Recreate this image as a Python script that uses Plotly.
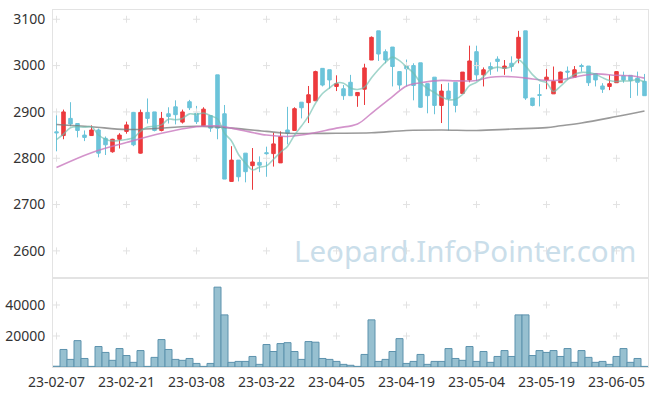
import plotly.graph_objects as go
import pandas as pd

dates = [
    "23-02-07", "23-02-08", "23-02-09", "23-02-10", "23-02-13", "23-02-14", "23-02-15", "23-02-16",
    "23-02-17", "23-02-20", "23-02-21", "23-02-22", "23-02-23", "23-02-24", "23-02-27", "23-02-28",
    "23-03-02", "23-03-03", "23-03-06", "23-03-07", "23-03-08", "23-03-09", "23-03-10", "23-03-13",
    "23-03-14", "23-03-15", "23-03-16", "23-03-17", "23-03-20", "23-03-21", "23-03-22", "23-03-23",
    "23-03-24", "23-03-27", "23-03-28", "23-03-29", "23-03-30", "23-03-31", "23-04-03", "23-04-04",
    "23-04-05", "23-04-06", "23-04-07", "23-04-10", "23-04-11", "23-04-12", "23-04-13", "23-04-14",
    "23-04-17", "23-04-18", "23-04-19", "23-04-20", "23-04-21", "23-04-24", "23-04-25", "23-04-26",
    "23-04-27", "23-04-28", "23-05-02", "23-05-03", "23-05-04", "23-05-08", "23-05-09", "23-05-10",
    "23-05-11", "23-05-12", "23-05-15", "23-05-16", "23-05-17", "23-05-18", "23-05-19", "23-05-22",
    "23-05-23", "23-05-24", "23-05-25", "23-05-26", "23-05-30", "23-05-31", "23-06-01", "23-06-02",
    "23-06-05", "23-06-07", "23-06-08", "23-06-09", "23-06-12",
]

open_ = [2857, 2849, 2886, 2875, 2850, 2849, 2861, 2843, 2814, 2841,
         2858, 2899, 2811, 2899, 2900, 2860, 2896, 2911, 2878, 2922,
         2897, 2870, 2892, 2980, 2896, 2750, 2796, 2811, 2784, 2791,
         2812, 2810, 2790, 2861, 2860, 2921, 2920, 2924, 2994, 2991,
         2955, 2950, 2964, 2935, 2949, 3012, 3075, 3030, 3040, 2987,
         3000, 3000, 3006, 2961, 2975, 2914, 2945, 2964, 2940, 2969,
         3030, 2980, 2998, 3014, 2994, 3005, 3016, 3075, 2930, 2937,
         2969, 2939, 2963, 2988, 2975, 3000, 2999, 2983, 2956, 2955,
         2963, 2978, 2979, 2973, 2966]
high = [2895, 2905, 2921, 2875, 2860, 2871, 2864, 2847, 2842, 2854,
        2879, 2900, 2905, 2929, 2900, 2900, 2910, 2925, 2905, 2926,
        2913, 2910, 2892, 2980, 2915, 2826, 2796, 2811, 2822, 2804,
        2825, 2855, 2858, 2911, 2910, 2921, 2956, 2989, 2994, 2991,
        2979, 2958, 2980, 2943, 3004, 3063, 3075, 3035, 3040, 2987,
        3013, 3005, 3006, 2961, 2975, 2960, 2963, 2964, 2986, 3043,
        3043, 2996, 3007, 3020, 3012, 3020, 3075, 3075, 2930, 2960,
        2994, 2998, 2987, 2998, 2999, 3004, 2999, 2983, 2962, 2980,
        2988, 2987, 2979, 2987, 2982]
low = [2815, 2841, 2869, 2845, 2837, 2848, 2802, 2807, 2812, 2821,
       2853, 2826, 2810, 2875, 2858, 2858, 2875, 2873, 2875, 2904,
       2874, 2869, 2857, 2841, 2755, 2749, 2750, 2748, 2732, 2770,
       2760, 2782, 2790, 2830, 2860, 2886, 2876, 2924, 2955, 2950,
       2945, 2926, 2935, 2911, 2915, 3012, 3010, 3005, 2955, 2948,
       2955, 2925, 2909, 2897, 2895, 2876, 2860, 2899, 2940, 2964,
       2966, 2955, 2980, 2987, 2980, 2987, 3005, 2926, 2912, 2912,
       2949, 2939, 2963, 2970, 2975, 2987, 2956, 2955, 2941, 2947,
       2963, 2963, 2930, 2935, 2935]
close = [2855, 2900, 2874, 2860, 2845, 2861, 2811, 2829, 2841, 2850,
         2872, 2829, 2899, 2886, 2860, 2886, 2890, 2894, 2900, 2909,
         2879, 2906, 2865, 2865, 2755, 2796, 2760, 2771, 2792, 2785,
         2810, 2831, 2847, 2854, 2907, 2909, 2937, 2987, 2958, 2969,
         2961, 2935, 2935, 2942, 2995, 3061, 3025, 3012, 2998, 2958,
         2993, 2957, 2910, 2935, 2914, 2945, 2929, 2914, 2986, 3010,
         2980, 2991, 2993, 3009, 2999, 2998, 3061, 2930, 2914, 2936,
         2975, 2966, 2986, 2986, 2991, 2998, 2963, 2969, 2949, 2961,
         2987, 2969, 2968, 2964, 2935]
volume = [500, 11300, 4900, 17000, 5500, 400, 13200, 9400, 4300, 11900,
          7400, 3000, 10600, 400, 6200, 17700, 11300, 4900, 4300, 5500,
          2300, 400, 2300, 51500, 33600, 3000, 3600, 3600, 6800, 1700,
          14500, 10000, 15100, 15700, 10000, 4900, 16400, 16000, 5500, 4900,
          3600, 1700, 1100, 400, 8100, 30400, 3600, 4900, 10000, 18300,
          2300, 3600, 8100, 1700, 3600, 3600, 11900, 5500, 4300, 13200,
          3600, 10000, 3000, 6800, 10600, 6800, 33600, 33600, 7400, 10600,
          9400, 10600, 6800, 11900, 3000, 10600, 6200, 3000, 3600, 1700,
          6800, 11900, 3000, 5500, 400]

# 5-day average: first four values (need earlier closes)
ma5_head = [2840, 2852, 2866, 2868]
ma20_idx = [0, 5, 10, 15, 20, 23, 25, 30, 33, 35, 40, 43, 45, 48, 50, 52, 55, 57, 60, 62, 65, 67, 70, 72, 75, 77, 80, 82, 84]
ma20_val = [2780, 2812, 2834, 2854, 2868, 2870, 2865, 2850, 2847, 2850, 2865, 2874, 2897, 2933, 2956, 2963, 2968, 2967, 2968, 2975, 2976, 2973, 2968, 2969, 2978, 2982, 2979, 2978, 2973]
ma60_idx = [0, 5, 10, 15, 20, 25, 30, 33, 40, 45, 50, 55, 60, 65, 70, 72, 75, 80, 84]
ma60_val = [2873, 2868, 2862, 2865, 2869, 2865, 2858, 2854, 2854, 2855, 2860, 2861, 2860, 2863, 2866, 2870, 2876, 2890, 2902]

price_ticks = [2600, 2700, 2800, 2900, 3000, 3100]
vol_ticks = [20000, 40000]
vol_tick_text = ["20000", "40000"]
x_ticks = dates[::10]

ma5 = pd.Series(close).rolling(5).mean().round(1).tolist()
ma5[:4] = ma5_head

fig = go.Figure()

cross = dict(symbol="cross-thin", size=5, line=dict(width=1, color="#e2e2e2"))
gx, gy = [], []
for xv in x_ticks:
    for yv in price_ticks:
        gx.append(xv); gy.append(yv)
fig.add_trace(go.Scatter(x=gx, y=gy, mode="markers", xaxis="x", yaxis="y",
                         marker=cross, hoverinfo="skip"))
gx2, gy2 = [], []
for xv in x_ticks:
    for yv in vol_ticks:
        gx2.append(xv); gy2.append(yv)
fig.add_trace(go.Scatter(x=gx2, y=gy2, mode="markers", xaxis="x2", yaxis="y2",
                         marker=cross, hoverinfo="skip"))

fig.add_trace(go.Candlestick(
    x=dates, open=open_, high=high, low=low, close=close, xaxis="x", yaxis="y",
    increasing=dict(line=dict(color="#ea3a3d", width=1), fillcolor="#ee3a3d"),
    decreasing=dict(line=dict(color="#6bc3d9", width=1), fillcolor="#6cc4da"),
    whiskerwidth=0, hoverinfo="skip"))

fig.add_trace(go.Scatter(x=[dates[i] for i in ma60_idx], y=ma60_val, mode="lines", xaxis="x", yaxis="y",
                         line=dict(color="rgba(120,120,120,0.75)", width=1.6, shape="spline"), hoverinfo="skip"))
fig.add_trace(go.Scatter(x=[dates[i] for i in ma20_idx], y=ma20_val, mode="lines", xaxis="x", yaxis="y",
                         line=dict(color="rgba(200,120,190,0.8)", width=1.6, shape="spline"), hoverinfo="skip"))
fig.add_trace(go.Scatter(x=dates, y=ma5, mode="lines", xaxis="x", yaxis="y",
                         line=dict(color="rgba(110,190,175,0.65)", width=1.6, shape="spline"), hoverinfo="skip"))

fig.add_trace(go.Bar(x=dates, y=volume, xaxis="x2", yaxis="y2",
                     marker=dict(color="#97c0d0", line=dict(color="#5c92ad", width=1)),
                     hoverinfo="skip"))

frame = "#e3e3e3"
tick_font = dict(family="Noto Sans, DejaVu Sans, sans-serif", size=14, color="#333333")
split = 89 / 357

fig.update_layout(
    width=657, height=396,
    margin=dict(l=53, r=9, t=10, b=29, autoexpand=False),
    paper_bgcolor="white", plot_bgcolor="white",
    showlegend=False, hovermode=False,
    bargap=0, boxgap=0.28,
    xaxis=dict(type="category", categoryorder="array", categoryarray=dates,
               range=[-0.5, len(dates) - 0.5], anchor="y", automargin=False,
               showticklabels=False, showgrid=False, zeroline=False,
               showline=True, mirror=True, linecolor=frame, linewidth=1,
               rangeslider=dict(visible=False), ticks=""),
    xaxis2=dict(type="category", categoryorder="array", categoryarray=dates,
                range=[-0.5, len(dates) - 0.5], anchor="y2", matches="x", automargin=False,
                tickmode="array", tickvals=x_ticks, ticktext=x_ticks,
                tickangle=0, tickfont=tick_font, ticks="", ticklabelstandoff=2,
                showgrid=False, zeroline=False,
                showline=True, mirror=True, linecolor=frame, linewidth=1),
    yaxis=dict(domain=[split, 1], range=[2541.5, 3120], anchor="x", automargin=False,
               tickmode="array", tickvals=price_ticks, tickfont=tick_font,
               ticks="", ticklabelstandoff=4,
               showgrid=False, zeroline=False,
               showline=True, mirror=True, linecolor=frame, linewidth=1),
    yaxis2=dict(domain=[0, split], range=[0, 57400], anchor="x2", automargin=False,
                tickmode="array", tickvals=vol_ticks, ticktext=vol_tick_text, tickfont=tick_font,
                ticks="", ticklabelstandoff=4,
                showgrid=False, zeroline=False,
                showline=True, mirror=True, linecolor=frame, linewidth=1),
    annotations=[dict(text="Leopard.InfoPointer.com", xref="paper", yref="paper",
                      x=0.984, y=0.325, xanchor="right", yanchor="middle", showarrow=False,
                      font=dict(family="Noto Sans, DejaVu Sans, sans-serif", size=29.5, color="#cadeea"))],
)

fig.write_html("out.html", config={"displayModeBar": False, "staticPlot": True},
               post_script="document.body.style.margin='0';document.body.style.padding='0';")
